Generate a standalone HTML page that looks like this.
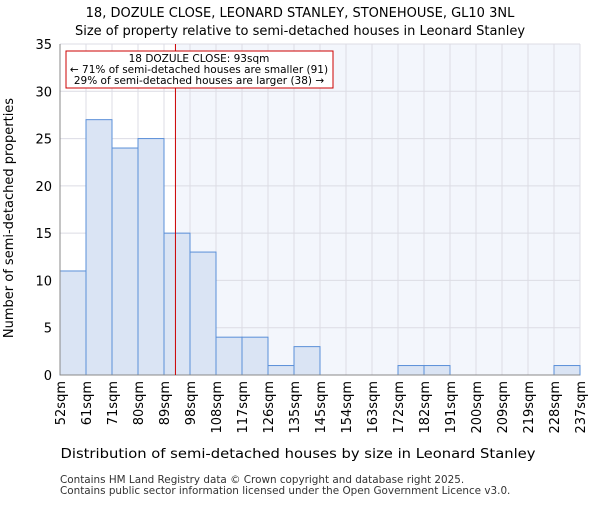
<!DOCTYPE html>
<html><head><meta charset="utf-8"><style>body{margin:0;background:#fff}svg{font-family:"DejaVu Sans","Liberation Sans",sans-serif}</style></head>
<body>
<svg id="c" width="600" height="500" xmlns="http://www.w3.org/2000/svg">
<text x="300" y="17" text-anchor="middle" font-size="13">18, DOZULE CLOSE, LEONARD STANLEY, STONEHOUSE, GL10 3NL</text>
<text x="300" y="35" text-anchor="middle" font-size="13">Size of property relative to semi-detached houses in Leonard Stanley</text>
<g id="plot"></g>
<text x="298" y="458" text-anchor="middle" font-size="13" textLength="475" lengthAdjust="spacingAndGlyphs">Distribution of semi-detached houses by size in Leonard Stanley</text>
<text transform="translate(13,218) rotate(-90)" text-anchor="middle" font-size="13">Number of semi-detached properties</text>
<text x="60" y="483" font-size="10.4" fill="#333">Contains HM Land Registry data © Crown copyright and database right 2025.</text>
<text x="60" y="494" font-size="10.4" fill="#333">Contains public sector information licensed under the Open Government Licence v3.0.</text>
</svg>
<script>
const categories=["52sqm","61sqm","71sqm","80sqm","89sqm","98sqm","108sqm","117sqm","126sqm","135sqm","145sqm","154sqm","163sqm","172sqm","182sqm","191sqm","200sqm","209sqm","219sqm","228sqm","237sqm"];
const counts=[11,27,24,25,15,13,4,4,1,3,0,0,0,1,1,0,0,0,0,1];
const yTicks=[0,5,10,15,20,25,30,35];
const propertyBin=4.44;
const NS="http://www.w3.org/2000/svg";
const L=60,R=580,T=44,B=375,YMAX=35,n=counts.length;
const x=i=>L+(R-L)*i/n;
const y=v=>B-(B-T)*v/YMAX;
const g=document.getElementById('plot');
function mk(t,a){const e=document.createElementNS(NS,t);for(const k in a)e.setAttribute(k,a[k]);g.appendChild(e);return e;}
const px=x(propertyBin);
let e=mk('rect',{x:px,y:T,width:R-px,height:B-T,fill:'#f3f6fc'});


for(let i=0;i<=n;i++){e=mk('line',{x1:x(i),x2:x(i),y1:T,y2:B,stroke:'#dcdce4','stroke-width':1});

}
yTicks.forEach(v=>{e=mk('line',{x1:L,x2:R,y1:y(v),y2:y(v),stroke:'#dcdce4','stroke-width':1});


e=mk('text',{x:L-8,y:y(v)+5,'text-anchor':'end','font-size':13});e.textContent=v;

});
counts.forEach((c,i)=>{if(c<=0)return;e=mk('rect',{x:x(i),y:y(c),width:x(i+1)-x(i),height:B-y(c),fill:'#dae4f4',stroke:'#5a8fd8','stroke-width':1});

});
categories.forEach((c,i)=>{e=mk('text',{transform:`translate(${x(i)+5},381) rotate(-90)`,'text-anchor':'end','font-size':13});e.textContent=c;

});
e=mk('line',{x1:L,x2:L,y1:T,y2:B,stroke:'#888'});


e=mk('line',{x1:L,x2:R,y1:B,y2:B,stroke:'#888'});


e=mk('line',{x1:px,x2:px,y1:T,y2:B,stroke:'#cc0000','stroke-width':1});


e=mk('rect',{x:66,y:51,width:267,height:37,fill:'#fff',stroke:'#cc0000','stroke-width':1});


[["18 DOZULE CLOSE: 93sqm",62],["← 71% of semi-detached houses are smaller (91)",73],["29% of semi-detached houses are larger (38) →",84]].forEach(([t,yy])=>{
e=mk('text',{x:199,y:yy,'text-anchor':'middle','font-size':10.5});e.textContent=t;

});
</script>
</body></html>
